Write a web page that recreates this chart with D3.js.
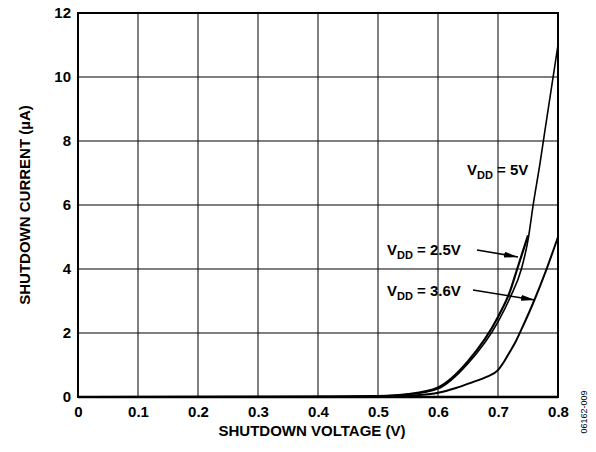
<!DOCTYPE html>
<html lang="en">
<head>
<meta charset="utf-8">
<title>Shutdown current vs shutdown voltage</title>
<script src="https://d3js.org/d3.v7.min.js"></script>
<style>
  body { margin: 0; background: #fff; }
  text { font-family: "Liberation Sans", Arial, sans-serif; font-weight: bold; fill: #000; }
</style>
</head>
<body>
<svg width="596" height="452"></svg>
<script>
    // data (V, uA)
    var xTicks = [0, 0.1, 0.2, 0.3, 0.4, 0.5, 0.6, 0.7, 0.8];
    var yTicks = [0, 2, 4, 6, 8, 10, 12];

    var vdd25 = [[0, 0], [0.3, 0.005], [0.4, 0.01], [0.5, 0.03], [0.55, 0.09], [0.6, 0.3],
                 [0.65, 1.12], [0.7, 2.5], [0.72, 3.3], [0.732, 4.0], [0.75, 5.05]];
    var vdd5 = [[0, 0], [0.3, 0.005], [0.4, 0.01], [0.5, 0.03], [0.55, 0.08], [0.6, 0.26],
                [0.65, 1.05], [0.7, 2.35], [0.72, 3.1], [0.739, 4.0], [0.75, 4.9],
                [0.759, 6.05], [0.77, 7.3], [0.778, 8.3], [0.8, 11]];
    var vdd36 = [[0, 0], [0.3, 0.005], [0.4, 0.01], [0.5, 0.02], [0.55, 0.04], [0.57, 0.06],
                 [0.6, 0.13], [0.63, 0.28], [0.66, 0.48], [0.68, 0.62], [0.7, 0.84],
                 [0.71, 1.1], [0.72, 1.42], [0.73, 1.75], [0.74, 2.15], [0.76, 3.0],
                 [0.78, 3.95], [0.8, 5.0]];

    var svg = d3.select("svg");

    var x = d3.scaleLinear().domain([0, 0.8]).range([78, 558]);
    var y = d3.scaleLinear().domain([0, 12]).range([397, 13]);

    // grid
    svg.append("g").selectAll("line")
       .data(xTicks.slice(1, -1))
       .enter().append("line")
       .attr("x1", d => x(d)).attr("x2", d => x(d))
       .attr("y1", y(0)).attr("y2", y(12))
       .attr("stroke", "#000").attr("stroke-width", 1);
    svg.append("g").selectAll("line")
       .data(yTicks.slice(1, -1))
       .enter().append("line")
       .attr("y1", d => y(d)).attr("y2", d => y(d))
       .attr("x1", x(0)).attr("x2", x(0.8))
       .attr("stroke", "#000").attr("stroke-width", 1);

    // frame
    svg.append("rect")
       .attr("x", x(0)).attr("y", y(12))
       .attr("width", x(0.8) - x(0)).attr("height", y(0) - y(12))
       .attr("fill", "none").attr("stroke", "#000").attr("stroke-width", 2);
    svg.append("line")
       .attr("x1", x(0)).attr("x2", x(0.8)).attr("y1", y(0)).attr("y2", y(0))
       .attr("stroke", "#000").attr("stroke-width", 2.5);

    // axes (labels only)
    var xAxis = svg.append("g")
       .attr("transform", "translate(0," + y(0) + ")")
       .call(d3.axisBottom(x).tickValues(xTicks).tickSize(0).tickPadding(9)
             .tickFormat(d => d === 0 ? "0" : d3.format(".1f")(d)));
    var yAxis = svg.append("g")
       .attr("transform", "translate(" + x(0) + ",0)")
       .call(d3.axisLeft(y).tickValues(yTicks).tickSize(0).tickPadding(7));
    [xAxis, yAxis].forEach(function (a) {
        a.select(".domain").remove();
        a.selectAll("text").style("font-size", "15px").style("font-family", "Liberation Sans, Arial, sans-serif")
         .style("font-weight", "bold");
    });

    svg.append("text")
       .attr("x", (x(0) + x(0.8)) / 2 - 6).attr("y", 436)
       .attr("text-anchor", "middle").style("font-size", "15px")
       .text("SHUTDOWN VOLTAGE (V)");
    svg.append("text")
       .attr("transform", "translate(30," + ((y(0) + y(12)) / 2) + ") rotate(-90)")
       .attr("text-anchor", "middle").style("font-size", "15px")
       .text("SHUTDOWN CURRENT (µA)");

    svg.append("text")
       .attr("transform", "translate(587,412) rotate(-90)")
       .attr("text-anchor", "middle")
       .style("font-size", "9px").style("font-weight", "normal")
       .text("06162-009");

    // curves
    var line = d3.line().x(d => x(d[0])).y(d => y(d[1])).curve(d3.curveMonotoneX);
    [[vdd36, 2], [vdd25, 2.2], [vdd5, 1.6]].forEach(function (s) {
        svg.append("path").datum(s[0])
           .attr("d", line)
           .attr("fill", "none").attr("stroke", "#000")
           .attr("stroke-width", s[1]).attr("stroke-linejoin", "round");
    });

    // labels
    svg.append("defs").append("marker")
       .attr("id", "arr").attr("viewBox", "0 0 14 6")
       .attr("refX", 14).attr("refY", 3)
       .attr("markerWidth", 14).attr("markerHeight", 6)
       .attr("markerUnits", "userSpaceOnUse")
       .attr("orient", "auto")
       .append("path").attr("d", "M0,0 L14,3 L0,6 Z").attr("fill", "#000");

    function vlabel(px, py, value) {
        var t = svg.append("text").attr("x", px).attr("y", py).style("font-size", "15px");
        t.append("tspan").text("V");
        t.append("tspan").attr("dy", 4).style("font-size", "11px").text("DD");
        t.append("tspan").attr("dy", -4).text(" = " + value);
    }
    vlabel(467, 175, "5V");
    vlabel(387, 255, "2.5V");
    vlabel(387, 296, "3.6V");

    svg.append("line")
       .attr("x1", 477).attr("y1", 250).attr("x2", 518).attr("y2", 257)
       .attr("stroke", "#000").attr("stroke-width", 1.5).attr("marker-end", "url(#arr)");
    svg.append("line")
       .attr("x1", 473).attr("y1", 290).attr("x2", 535).attr("y2", 300)
       .attr("stroke", "#000").attr("stroke-width", 1.5).attr("marker-end", "url(#arr)");
</script>
</body>
</html>
